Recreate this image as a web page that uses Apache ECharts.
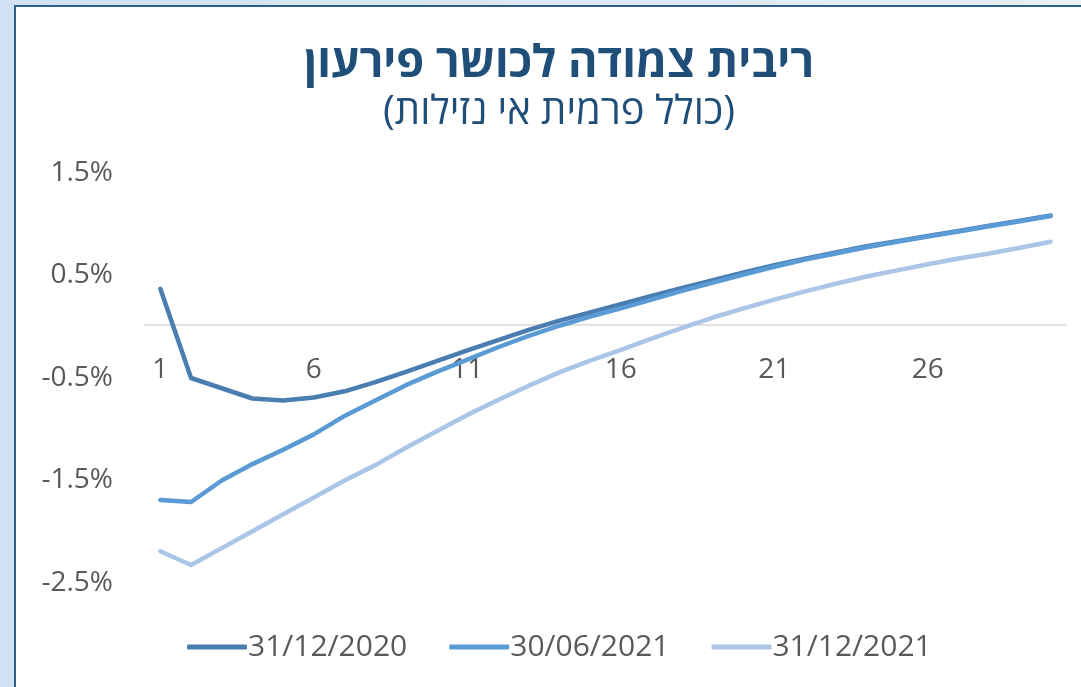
<!DOCTYPE html>
<html>
<head>
<meta charset="utf-8">
<script src="https://cdn.jsdelivr.net/npm/echarts@6/dist/echarts.min.js"></script>
<style>
  html,body{margin:0;padding:0;}
  body{width:1081px;height:687px;overflow:hidden;background:linear-gradient(to right,#cfe1f3,#e8f0f9);position:relative;}
  #frame{position:absolute;left:14px;top:5px;width:1067px;height:682px;background:#fff;
    border-left:2px solid #2f5d8c;border-top:2px solid #2f5d8c;box-sizing:border-box;}
  #main{position:absolute;left:0;top:0;width:1081px;height:687px;}
</style>
</head>
<body>
<div id="frame"></div>
<div id="main"></div>
<script>
// תקופות (שנים)
const years = [];
for (let i = 1; i <= 30; i++) years.push(String(i));

const names = ['31/12/2020', '30/06/2021', '31/12/2021'];

const dec2020 = [0.37, -0.50, -0.60, -0.70, -0.72, -0.69, -0.63, -0.54, -0.44, -0.335,
  -0.23, -0.13, -0.03, 0.06, 0.14, 0.22, 0.30, 0.38, 0.455, 0.53,
  0.60, 0.665, 0.725, 0.785, 0.835, 0.885, 0.935, 0.985, 1.035, 1.085];

const jun2021 = [-1.69, -1.71, -1.50, -1.34, -1.20, -1.05, -0.87, -0.72, -0.57, -0.44,
  -0.32, -0.20, -0.09, 0.01, 0.10, 0.18, 0.265, 0.35, 0.43, 0.51,
  0.585, 0.655, 0.715, 0.775, 0.83, 0.88, 0.93, 0.98, 1.03, 1.08];

const dec2021 = [-2.19, -2.325, -2.16, -1.995, -1.83, -1.665, -1.50, -1.35, -1.18, -1.02,
  -0.86, -0.715, -0.575, -0.445, -0.33, -0.225, -0.115, -0.01, 0.09, 0.18,
  0.265, 0.345, 0.42, 0.49, 0.55, 0.61, 0.665, 0.715, 0.77, 0.83];

const colors = ['#4a7eb0', '#5b9bd5', '#abc5e7'];
const font = 'Open Sans, DejaVu Sans, sans-serif';

const chart = echarts.init(document.getElementById('main'), null, {renderer: 'canvas'});

function line(name, data, color) {
  return {
    name: name,
    type: 'line',
    data: data,
    symbol: 'none',
    lineStyle: {color: color, width: 4.5, cap: 'round', join: 'round'},
    itemStyle: {color: color}
  };
}

chart.setOption({
  animation: false,
  textStyle: {fontFamily: font},
  title: {
    text: 'ריבית צמודה לכושר פירעון',
    subtext: '(כולל פרמית אי נזילות)',
    left: 554,
    top: 37,
    textAlign: 'center',
    itemGap: 6,
    textStyle: {fontSize: 45, fontWeight: 'bold', color: '#1f4e79', fontFamily: font},
    subtextStyle: {fontSize: 40, color: '#1f4e79', fontFamily: font}
  },
  legend: {
    bottom: 20,
    left: 182,
    icon: 'roundRect',
    itemWidth: 60,
    itemHeight: 5,
    itemGap: 42,
    textStyle: {fontSize: 30, color: '#595959', fontFamily: font, padding: [0, 0, 0, -4]},
    data: names
  },
  grid: {left: 145, right: 15, top: 173, bottom: 104},
  xAxis: {
    type: 'category',
    data: years,
    boundaryGap: true,
    offset: -258,
    axisLine: {onZero: false, lineStyle: {color: '#d9d9d9', width: 1.5}},
    axisTick: {show: false},
    axisLabel: {interval: 4, margin: 31, fontSize: 28, color: '#595959', fontFamily: font}
  },
  yAxis: {
    type: 'value',
    min: -2.5,
    max: 1.5,
    interval: 1,
    axisLine: {show: false},
    axisTick: {show: false},
    splitLine: {show: false},
    axisLabel: {
      margin: 32,
      fontSize: 28,
      color: '#595959',
      fontFamily: font,
      formatter: v => v.toFixed(1) + '%'
    }
  },
  series: [
    line(names[0], dec2020, colors[0]),
    line(names[1], jun2021, colors[1]),
    line(names[2], dec2021, colors[2])
  ]
});
</script>
</body>
</html>
